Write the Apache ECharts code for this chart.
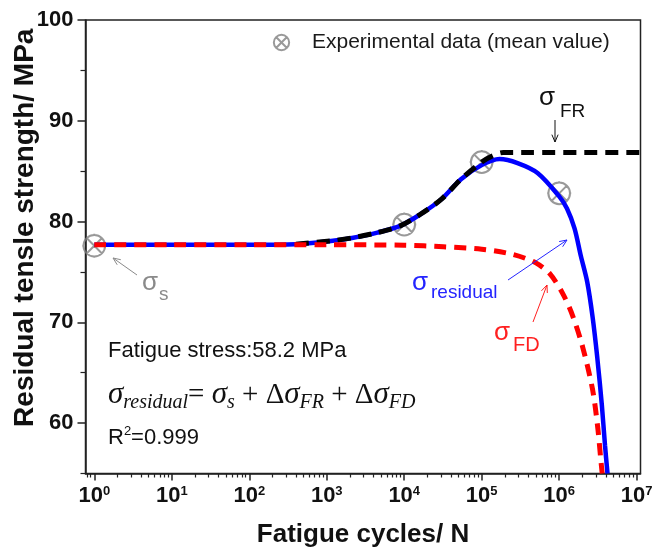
<!DOCTYPE html>
<html><head><meta charset="utf-8">
<script src="https://cdn.jsdelivr.net/npm/echarts@6/dist/echarts.min.js"></script>
<style>html,body{margin:0;padding:0;background:#fff}#c{width:668px;height:553px}</style>
</head><body><div id="c"></div>
<script>
// ---- tick values ----
const xMajorTicks = [1, 10, 100, 1e3, 1e4, 1e5, 1e6, 1e7];
const xMinorTicks = [0.8, 0.9];
for (let d = 0; d < 7; d++) for (let k = 2; k <= 9; k++) xMinorTicks.push(k * Math.pow(10, d));
const yMajorTicks = [60, 70, 80, 90, 100];
const yMinorTicks = [55, 65, 75, 85, 95];

// ---- experimental data (mean value) ----
const expCycles = [1, 1e4, 1e5, 1e6];
const expStrength = [77.6, 79.7, 85.9, 82.8];

// ---- sigma residual (blue solid) ----
const resCycles = [1, 10, 100, 400, 1200, 2200, 4500, 9000, 16000, 30000, 54000, 100000, 170000, 290000, 530000,
  1000000, 1260000, 1580000, 1900000, 2300000, 2700000, 3100000, 3550000, 3900000, 4200000];
const resStrength = [77.7, 77.7, 77.7, 77.75, 78.1, 78.4, 78.9, 79.6, 80.7, 82.2, 84.2, 85.6, 86.2, 85.8, 84.8,
  82.5, 81.3, 79.3, 76.6, 74.0, 70.5, 66.5, 61.8, 57.8, 55.0];

// ---- sigma FR (black dashed) ----
const frCycles = [400, 1200, 2200, 4500, 9000, 16000, 30000, 54000, 100000, 140000, 190000, 11200000];
const frStrength = [77.75, 78.1, 78.4, 78.9, 79.6, 80.7, 82.2, 84.2, 85.9, 86.55, 86.85, 86.85];

// ---- sigma FD (red dashed) ----
const fdCycles = [1, 10, 100, 1000, 10000, 32000, 100000, 250000, 500000, 760000, 1120000, 1500000, 2000000, 2700000, 3160000, 3430000, 3590000];
const fdStrength = [77.7, 77.7, 77.7, 77.7, 77.65, 77.5, 77.25, 76.75, 75.9, 74.8, 72.8, 70.6, 67.6, 63.3, 59.4, 56.5, 55.0];

const zip = (a, b) => a.map((v, i) => [v, b[i]]);
const markerPath = 'path://M1,10A9,9 0 1,0 19,10A9,9 0 1,0 1,10Z M3.6,3.6L16.4,16.4 M16.4,3.6L3.6,16.4 M10,0L10,1 M10,19L10,20 M0,10L1,10 M19,10L20,10';
const SANS = 'Liberation Sans, Arial, sans-serif';
const SERIF = 'Liberation Serif, Times New Roman, serif';

function arrow(x1, y1, x2, y2, color) {
  const ang = Math.atan2(y2 - y1, x2 - x1), L = 8, a = 0.4;
  return [
    {type: 'line', shape: {x1, y1, x2, y2}, style: {stroke: color, lineWidth: 1}, z: 100},
    {type: 'polyline', shape: {points: [
      [x2 - L * Math.cos(ang - a), y2 - L * Math.sin(ang - a)], [x2, y2],
      [x2 - L * Math.cos(ang + a), y2 - L * Math.sin(ang + a)]]},
      style: {stroke: color, lineWidth: 1, fill: null}, z: 100}
  ];
}
function txt(x, y, text, size, color, extra) {
  return Object.assign({type: 'text', x, y, z: 100,
    style: Object.assign({text, fontSize: size, fill: color, fontFamily: SANS, verticalAlign: 'middle', align: 'left'}, extra || {})});
}

const chart = echarts.init(document.getElementById('c'), null, {renderer: 'canvas'});
const xBase = {type: 'log', logBase: 10, min: 0.77, max: 1.12e7, gridIndex: 0, splitLine: {show: false}};
const yBase = {type: 'value', min: 55, max: 100, splitLine: {show: false}};

chart.setOption({
  animation: false,
  backgroundColor: '#fff',
  grid: {left: 85.5, right: 27.5, top: 20, bottom: 79.5, show: true, borderColor: '#222', borderWidth: 1.5, containLabel: false, outerBoundsMode: 'none'},
  legend: {
    data: ['Experimental data (mean value)'], left: 272, top: 32, padding: 0,
    itemWidth: 17, itemHeight: 17,
    textStyle: {fontSize: 21, color: '#1a1a1a', fontFamily: SANS, padding: [0, 0, 0, 17]}
  },
  xAxis: [
    Object.assign({}, xBase, {
      position: 'bottom',
      name: 'Fatigue cycles/ N', nameLocation: 'middle', nameGap: 48, nameMoveOverlap: false,
      nameTextStyle: {fontSize: 26, fontWeight: 'bold', color: '#111', fontFamily: SANS},
      axisLine: {show: true, lineStyle: {color: '#222', width: 1.5}},
      axisTick: {show: true, inside: false, length: 7, lineStyle: {color: '#222', width: 1.5}, customValues: xMajorTicks},
      axisLabel: {show: true, margin: 11, customValues: xMajorTicks, color: '#111',
        formatter: v => '{b|10}{s|' + Math.round(Math.log10(v)) + '}',
        rich: {b: {fontSize: 22, fontWeight: 'bold', fontFamily: SANS, color: '#111'},
               s: {fontSize: 13, fontWeight: 'bold', fontFamily: SANS, color: '#111', verticalAlign: 'top', lineHeight: 14}}}
    }),
    Object.assign({}, xBase, {
      position: 'bottom',
      axisLine: {show: false},
      axisTick: {show: true, inside: false, length: 4, lineStyle: {color: '#222', width: 1.2}, customValues: xMinorTicks},
      axisLabel: {show: false}
    })
  ],
  yAxis: [
    Object.assign({}, yBase, {
      position: 'left',
      name: 'Residual tensle strength/ MPa', nameLocation: 'middle', nameGap: 46, nameMoveOverlap: false,
      nameTextStyle: {fontSize: 28, fontWeight: 'bold', color: '#111', fontFamily: SANS, padding: [0, 0, 0, 38]},
      axisLine: {show: true, lineStyle: {color: '#222', width: 1.5}},
      axisTick: {show: true, inside: false, length: 8, lineStyle: {color: '#222', width: 1.5}, customValues: yMajorTicks},
      axisLabel: {show: true, margin: 12, customValues: yMajorTicks, fontSize: 22, fontWeight: 'bold', color: '#111', fontFamily: SANS}
    }),
    Object.assign({}, yBase, {
      position: 'left',
      axisLine: {show: false},
      axisTick: {show: true, inside: false, length: 5, lineStyle: {color: '#222', width: 1.2}, customValues: yMinorTicks},
      axisLabel: {show: false}
    })
  ],
  series: [
    {name: 'Experimental data (mean value)', type: 'scatter', data: zip(expCycles, expStrength),
     symbol: markerPath, symbolSize: 24, z: 1,
     itemStyle: {color: 'rgba(0,0,0,0)', borderColor: '#808080', borderWidth: 2}},
    {name: 'residual', type: 'line', data: zip(resCycles, resStrength), showSymbol: false, smooth: 0.3,
     lineStyle: {color: '#0000ff', width: 4.5}, z: 2, clip: true},
    {name: 'FR', type: 'line', data: zip(frCycles, frStrength), showSymbol: false, smooth: 0.3,
     lineStyle: {color: '#000', width: 5, type: [13, 8]}, z: 3, clip: true},
    {name: 'FD', type: 'line', data: zip(fdCycles, fdStrength), showSymbol: false, smooth: 0.3,
     lineStyle: {color: '#ff0000', width: 5, type: [12, 8]}, z: 4, clip: true}
  ],
  graphic: [
    txt(108, 351, 'Fatigue stress:58.2 MPa', 22, '#111'),
    {type: 'text', x: 108, y: 395, z: 100, style: {
      text: '{s|σ}{sub|residual}{o|= }{s|σ}{sub|s}{o| + Δ}{s|σ}{sub|FR}{o| + Δ}{s|σ}{sub|FD}',
      verticalAlign: 'middle', align: 'left', fill: '#111',
      rich: {
        s: {fontSize: 31, fontStyle: 'italic', fontFamily: SERIF, fill: '#111', lineHeight: 36, verticalAlign: 'middle'},
        sub: {fontSize: 20, fontStyle: 'italic', fontFamily: SERIF, fill: '#111', lineHeight: 20, verticalAlign: 'bottom'},
        o: {fontSize: 29, fontFamily: SERIF, fill: '#111', lineHeight: 36, verticalAlign: 'middle'}
      }}},
    {type: 'text', x: 108, y: 438, z: 100, style: {
      text: '{n|R}{p|2}{n|=0.999}', verticalAlign: 'middle', align: 'left', fill: '#111',
      rich: {n: {fontSize: 22, fontFamily: SANS, fill: '#111', lineHeight: 26, verticalAlign: 'middle'},
             p: {fontSize: 13, fontFamily: SANS, fill: '#111', lineHeight: 13, verticalAlign: 'top'}}}},
    // sigma FR
    txt(539, 98, 'σ', 26, '#111'),
    txt(560, 112, 'FR', 19, '#111'),
    ...arrow(555, 120, 555, 142, '#111'),
    // sigma s
    txt(142, 283, 'σ', 26, '#8a8a8a'),
    txt(159, 295, 's', 19, '#8a8a8a'),
    ...arrow(137, 275, 113, 258, '#8a8a8a'),
    // sigma residual
    txt(412, 283, 'σ', 26, '#2424ff'),
    txt(431, 293, 'residual', 19, '#2424ff'),
    ...arrow(508, 280, 567, 240, '#2424ff'),
    // sigma FD
    txt(494, 333, 'σ', 26, '#ff2020'),
    txt(513, 345, 'FD', 20, '#ff2020'),
    ...arrow(533, 322, 547, 285, '#ff2020')
  ]
});
</script></body></html>
